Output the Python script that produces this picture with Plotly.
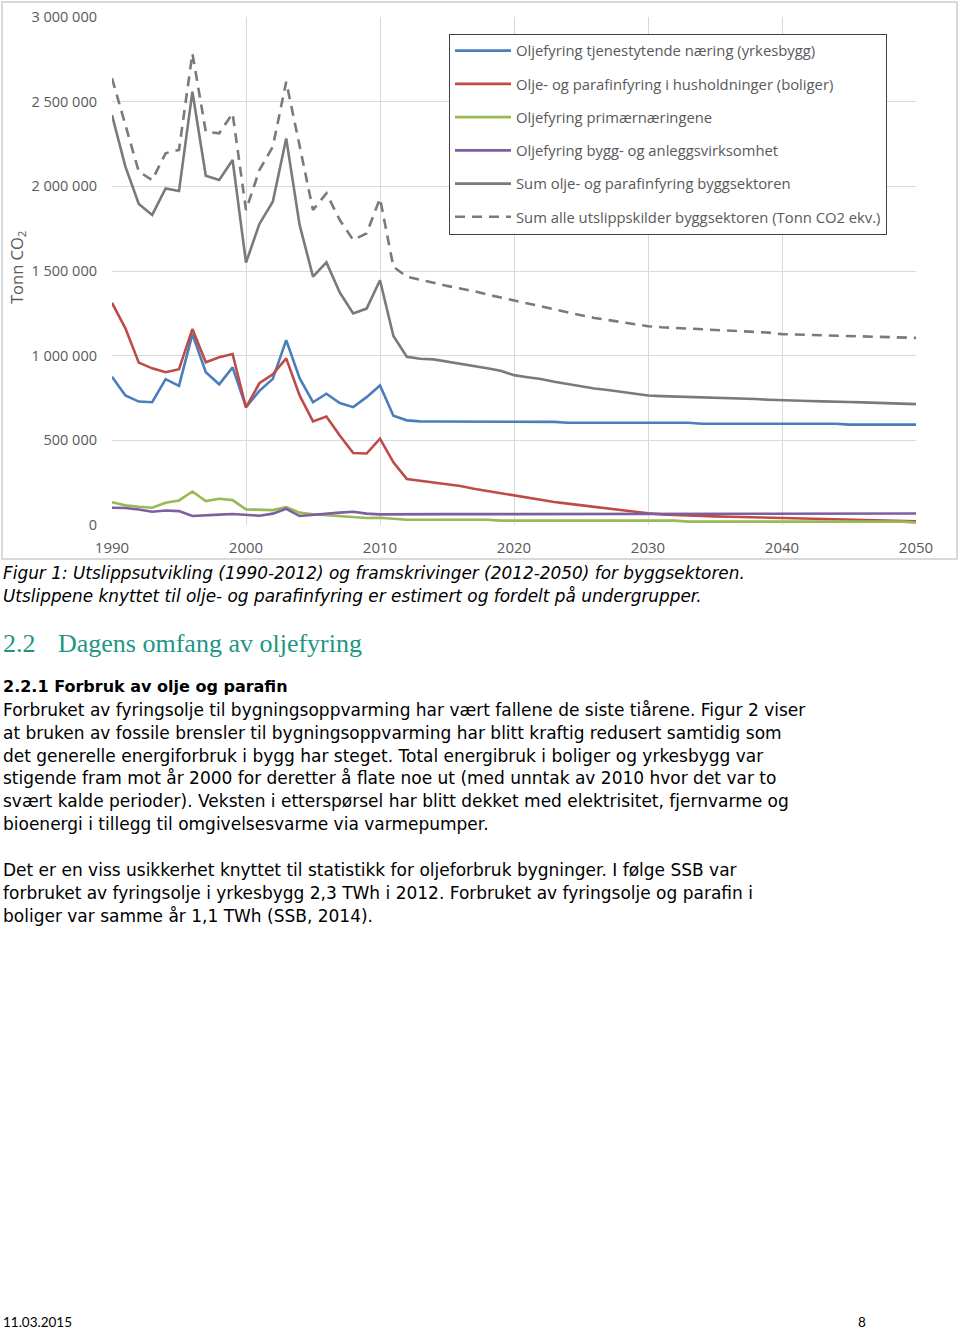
import plotly.graph_objects as go

# ---------------- data (thousand tonnes CO2) ----------------
years = list(range(1990, 2051))

yrkesbygg = [876, 765, 729, 725, 861, 822, 1127, 902, 831, 931, 696, 792, 863, 1092, 867, 725, 775, 720, 696, 755, 824, 645, 618, 612,
             611, 611, 611, 611, 611, 610, 610, 610, 610, 609,
             604, 604, 604, 604, 604, 604, 604, 604, 604, 604,
             598, 598, 598, 598, 598, 598, 598, 598, 598, 598, 598,
             593, 593, 593, 593, 593, 593]

boliger = [1312, 1161, 959, 925, 902, 920, 1157, 961, 990, 1010, 694, 837, 890, 984, 765, 612, 641, 529, 425, 422, 510,
           370, 272, 262, 250, 240, 230, 214, 201, 185, 171, 161, 149, 136, 126, 116, 106, 96, 87, 77, 69,
           63, 59, 57, 53, 51, 49, 47, 45, 43, 41, 39, 37, 35, 33, 31, 30, 28, 26, 24, 22]

primaer = [135, 116, 108, 102, 131, 145, 198, 141, 155, 147, 92, 88, 88, 106, 73, 63, 57, 49, 45, 41, 43, 37, 31, 31,
           31, 31, 31, 31, 31,
           26, 26, 26, 26, 26, 26, 26, 26, 26, 26, 26, 26, 26, 26,
           20, 20, 20, 20, 20, 20, 20, 20, 20, 20, 20, 20, 20, 20, 20, 20, 20,
           14]

anlegg = [102, 100, 92, 78, 86, 82, 53, 55, 61, 65, 59, 55, 67, 96, 53, 61, 67, 73, 78, 67, 63,
          64, 64, 64, 64, 64, 64, 64, 64, 64, 64, 64, 64,
          68, 68, 68, 68, 68, 68, 68, 68, 68, 68, 68, 68, 68, 68, 68, 68, 68, 68, 68, 68, 68, 68, 68, 68, 68, 68, 68, 68]

sum_olje = [2421, 2116, 1896, 1831, 1988, 1972, 2559, 2063, 2037, 2156, 1549, 1778, 1909, 2283, 1772, 1467, 1551, 1373, 1249, 1278, 1445, 1116, 994, 982,
            978, 966, 954, 940, 926, 911, 885, 873, 862, 846, 832, 818, 806, 797, 785, 775, 765,
            761, 759, 757, 755, 751, 747, 745, 744, 740, 736, 734, 732, 730, 730, 726, 724, 722, 720, 716, 714]

sum_alle = [2638, 2370, 2087, 2037, 2195, 2215, 2785, 2323, 2313, 2431, 1860, 2096, 2234, 2618, 2234, 1860, 1959, 1801, 1683, 1722, 1929, 1525, 1466,
            1446, 1430, 1412, 1397, 1381, 1361, 1343, 1328, 1308, 1292, 1273, 1257, 1239, 1223, 1210, 1198, 1186, 1174,
            1168, 1164, 1160, 1156, 1152, 1148, 1144, 1140, 1136, 1127, 1125, 1123, 1121, 1119, 1117, 1115, 1113, 1111, 1108, 1105]

series_names = [
    "Oljefyring tjenestytende næring (yrkesbygg)",
    "Olje- og parafinfyring i husholdninger (boliger)",
    "Oljefyring primærnæringene",
    "Oljefyring bygg- og anleggsvirksomhet",
    "Sum olje- og parafinfyring byggsektoren",
    "Sum alle utslippskilder byggsektoren (Tonn CO2 ekv.)",
]
series_values = [yrkesbygg, boliger, primaer, anlegg, sum_olje, sum_alle]
series_colors = ["#4a7ebb", "#be4b48", "#98b954", "#7d5fa0", "#7a7a7a", "#7a7a7a"]
series_dash = ["solid", "solid", "solid", "solid", "solid", "10px,7px"]

y_ticks = [0, 500000, 1000000, 1500000, 2000000, 2500000, 3000000]
x_ticks = [1990, 2000, 2010, 2020, 2030, 2040, 2050]

caption_lines = [
    "Figur 1: Utslippsutvikling (1990-2012) og framskrivinger (2012-2050) for byggsektoren.",
    "Utslippene knyttet til olje- og parafinfyring er estimert og fordelt på undergrupper.",
]
body_lines = [
    "Forbruket av fyringsolje til bygningsoppvarming har vært fallene de siste tiårene. Figur 2 viser",
    "at bruken av fossile brensler til bygningsoppvarming har blitt kraftig redusert samtidig som",
    "det generelle energiforbruk i bygg har steget. Total energibruk i boliger og yrkesbygg var",
    "stigende fram mot år 2000 for deretter å flate noe ut (med unntak av 2010 hvor det var to",
    "svært kalde perioder). Veksten i etterspørsel har blitt dekket med elektrisitet, fjernvarme og",
    "bioenergi i tillegg til omgivelsesvarme via varmepumper.",
]
body2_lines = [
    "Det er en viss usikkerhet knyttet til statistikk for oljeforbruk bygninger. I følge SSB var",
    "forbruket av fyringsolje i yrkesbygg 2,3 TWh i 2012. Forbruket av fyringsolje og parafin i",
    "boliger var samme år 1,1 TWh (SSB, 2014).",
]

# ---------------- layout geometry ----------------
W, H = 960, 1332
L, R, T, B = 112, 916, 17, 525   # plot area in pixels


def px(x):
    return (x - L) / (R - L)


def py(y):
    return (B - y) / (B - T)


fig = go.Figure()
for name, vals, col, dash in zip(series_names, series_values, series_colors, series_dash):
    fig.add_trace(go.Scatter(
        x=years, y=[v * 1000 for v in vals], mode="lines", name=name,
        legendgroup=name,
        line=dict(color=col, width=2.6, dash=dash),
    ))

annotations = []
# y-axis title
annotations.append(dict(text="Tonn CO<sub>2</sub>", x=px(17), y=py(268), xref="paper", yref="paper",
                        xanchor="center", yanchor="middle",
                        textangle=-90, showarrow=False, font=dict(family="Open Sans", size=16.5, color="#595959")))

txt_font = "DejaVu Sans"
for i, line in enumerate(caption_lines):
    annotations.append(dict(text="<i>" + line + "</i>", x=px(1), y=py(573 + 23 * i), xref="paper", yref="paper",
                            xanchor="left", yanchor="middle", showarrow=False,
                            font=dict(family=txt_font, size=16.9, color="#000000")))
annotations.append(dict(text="2.2", x=px(1), y=py(643), xref="paper", yref="paper",
                        xanchor="left", yanchor="middle", showarrow=False,
                        font=dict(family="Liberation Serif", size=26, color="#1f9585")))
annotations.append(dict(text="Dagens omfang av oljefyring", x=px(56), y=py(643), xref="paper", yref="paper",
                        xanchor="left", yanchor="middle", showarrow=False,
                        font=dict(family="Liberation Serif", size=26, color="#1f9585")))
annotations.append(dict(text="<b>2.2.1 Forbruk av olje og parafin</b>", x=px(1), y=py(687), xref="paper", yref="paper",
                        xanchor="left", yanchor="middle", showarrow=False,
                        font=dict(family=txt_font, size=16, color="#000000")))
for i, line in enumerate(body_lines):
    annotations.append(dict(text=line, x=px(1), y=py(710 + 22.8 * i), xref="paper", yref="paper",
                            xanchor="left", yanchor="middle", showarrow=False,
                            font=dict(family=txt_font, size=17, color="#000000")))
for i, line in enumerate(body2_lines):
    annotations.append(dict(text=line, x=px(1), y=py(870 + 22.8 * i), xref="paper", yref="paper",
                            xanchor="left", yanchor="middle", showarrow=False,
                            font=dict(family=txt_font, size=17, color="#000000")))
annotations.append(dict(text="11.03.2015", x=px(1), y=py(1322), xref="paper", yref="paper",
                        xanchor="left", yanchor="middle", showarrow=False,
                        font=dict(family="Lato", size=13.5, color="#000000")))
annotations.append(dict(text="8", x=px(856), y=py(1322), xref="paper", yref="paper",
                        xanchor="left", yanchor="middle", showarrow=False,
                        font=dict(family="Lato", size=13.5, color="#000000")))

shapes = [dict(type="rect", xref="paper", yref="paper", x0=px(2), x1=px(957), y0=py(559), y1=py(2),
               line=dict(color="#d9d9d9", width=2), layer="below")]

fig.update_layout(
    width=W, height=H,
    margin=dict(l=L, r=W - R, t=T, b=H - B, pad=0, autoexpand=False),
    paper_bgcolor="white", plot_bgcolor="white",
    separators=", ",
    font=dict(family="Open Sans", color="#595959", size=14),
    showlegend=True,
    legend=dict(x=px(449), y=py(33.5), xanchor="left", yanchor="top",
                bordercolor="#404040", borderwidth=1, bgcolor="white",
                font=dict(family="Open Sans", size=14.8, color="#595959"),
                traceorder="grouped", tracegroupgap=11.0, itemwidth=56),
    xaxis=dict(range=[1990, 2050], tickvals=x_ticks, showgrid=True, gridcolor="#d9d9d9", gridwidth=1,
               zeroline=False, showline=False, ticks="", ticklabelstandoff=12, automargin=False,
               tickfont=dict(size=15, color="#595959")),
    yaxis=dict(range=[0, 3000000], tickvals=y_ticks, tickformat=",d", showgrid=True, gridcolor="#d9d9d9",
               gridwidth=1, zeroline=False, showline=False, ticks="", ticklabelstandoff=14, automargin=False,
               tickfont=dict(size=14.5, color="#595959")),
    annotations=annotations,
    shapes=shapes,
)

fig.write_html("out.html")
